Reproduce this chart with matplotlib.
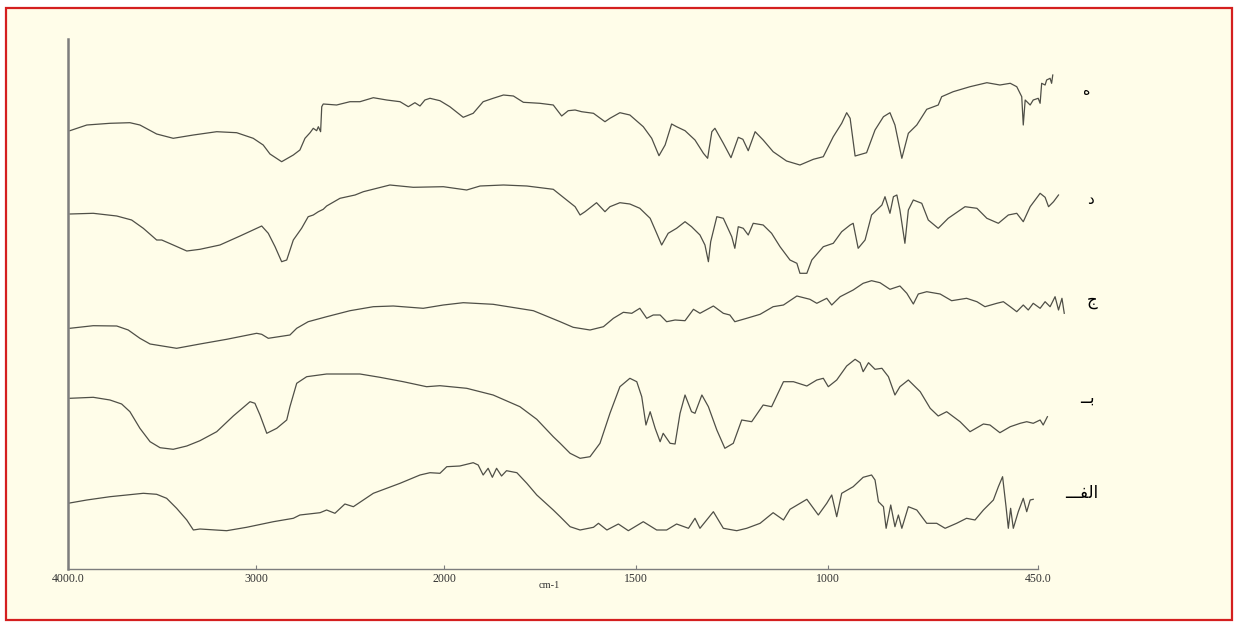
import numpy as np
import matplotlib
matplotlib.use("Agg")
import matplotlib.pyplot as plt
from matplotlib.patches import Rectangle

# ---------------- data (wavenumber cm-1, transmittance in arbitrary units) -------------
he_wn = [3990,3900,3777,3671,3618,3529,3441,3334,3210,3104,3016,2963,2927,2865,2803,2768,2741,2714,2697,2679,2670,2658,2652,2644,2573,2502,2449,2378,2307,2236,2192,2157,2130,2104,2077,2024,1986,1951,1925,1899,1873,1846,1820,1794,1751,1716,1694,1677,1659,1642,1611,1581,1568,1542,1516,1481,1459,1440,1424,1407,1394,1372,1346,1324,1313,1302,1294,1272,1252,1233,1221,1207,1189,1168,1142,1107,1072,1037,1011,985,963,950,941,928,898,876,854,837,824,806,789,767,741,711,702,672,628,584,550,523,506,493,489,484,471,463,450,445,441,432,428,419,415,412]
he_t = [469.3,475,476.7,477.3,475,466,461.7,465,468.3,467.3,461.7,455,446,438.3,445,450,461.7,467.3,471.7,469.3,473.3,468.3,493.3,496,495,498.3,498.3,502.3,500,498.3,493.3,497.3,494,500,501.7,499.3,493.3,482.7,486.7,498.3,501.7,505,504,497.7,496.7,495,484,489.3,490,488.3,486.7,478.3,481.7,487.3,485,473.3,461.7,444.3,455,476,473.3,469.3,460,446.7,441.7,468.3,471.7,456.7,442.3,462.7,460.7,449.3,468.3,460,448.3,439,435,440.7,443.3,463.3,476.7,487.3,481.7,444,447.3,470,483.3,487.3,475,441.7,466.7,475,490.7,495,503.3,508.3,513.3,517.3,515,516.7,513.3,503.3,475,500,495,500,501.7,496.7,516.7,515,520,521.7,516.7,525]

de_wn = [3990,3866,3741,3662,3600,3529,3502,3441,3369,3299,3193,3086,2971,2936,2900,2865,2838,2803,2759,2724,2697,2670,2644,2626,2555,2475,2431,2290,2166,2006,1942,1907,1846,1785,1716,1681,1659,1646,1633,1603,1581,1568,1542,1516,1490,1463,1446,1433,1416,1394,1372,1355,1333,1320,1311,1305,1289,1272,1250,1242,1233,1220,1207,1194,1168,1146,1124,1098,1080,1072,1054,1041,1011,985,963,941,933,920,902,885,858,850,837,828,819,811,798,789,776,754,737,711,685,641,610,584,554,528,506,489,471,445,432,423,410,397]
de_t = [386,386.7,384,380,371.7,360,360,355,349,350.7,355,364,374,366.7,353.3,338.3,340,360,371.7,383.3,385,388.3,390.7,394,401.7,405,408.3,415,412.7,413.3,410,414,415,414,410.7,400,393.3,385,388.3,397.3,388.3,393.3,397.3,396,391.7,381.7,366.7,355,366.7,371.7,378.3,373.3,365,355,338.3,358.3,383.3,381.7,363.3,351.7,373.3,371.7,365,376.7,375,366.7,353.3,340,336.7,326.7,326.7,340,353.3,356.7,368.3,375,376.7,351.7,360,385,395,403.3,386.7,403.3,405,390,356.7,390,400,396.7,380,371.7,381.7,393.3,391.7,381.7,376.7,385,386.7,378.3,393.3,406.7,402.7,393.3,398.3,405]

ja_wn = [3990,3866,3741,3680,3618,3564,3423,3299,3157,2998,2971,2936,2821,2785,2724,2626,2502,2378,2272,2113,2006,1951,1873,1768,1698,1664,1620,1585,1559,1533,1511,1490,1472,1455,1437,1420,1398,1372,1350,1333,1298,1272,1255,1242,1211,1176,1142,1115,1080,1046,1028,1002,989,967,933,907,885,863,837,811,793,776,763,741,706,676,637,610,589,558,541,523,506,489,476,463,445,432,419,406,397,388,382]
ja_t = [271.7,274.3,274,270,261.7,256,251.7,256,260.7,266.7,265.7,261.7,265,271.7,278.3,283.3,289.3,293.3,294,291.7,295,297.3,295.7,289.3,278.3,272.7,270,273.3,281.7,287.7,286.7,291.7,281.7,285,285,278.3,280,279.3,290.7,286.7,294,286.7,285,278.3,281.7,285.7,293.3,295,304,300.7,296.7,301.7,295,303.3,310,316.7,319.3,317.3,310.7,314,306.7,296,306,308.3,306,299.3,301.7,298.3,293.3,296.7,298.3,293.3,288.3,295,290,296.7,291.7,298.3,293.3,303.3,290,301.7,286.7]

be_wn = [3990,3866,3777,3715,3671,3618,3564,3511,3441,3369,3299,3210,3122,3033,3007,2980,2944,2891,2838,2821,2785,2732,2626,2449,2343,2219,2095,2024,1942,1873,1803,1759,1716,1698,1672,1646,1620,1594,1568,1542,1516,1498,1485,1474,1463,1450,1437,1429,1411,1398,1385,1372,1355,1346,1328,1311,1289,1268,1246,1224,1198,1168,1146,1115,1089,1054,1028,1011,998,976,950,928,915,907,893,876,858,841,824,811,789,758,732,711,689,654,628,593,576,550,523,497,480,463,445,437,426]
be_t = [201.7,202.7,200,196,188.3,171.7,158.3,152.3,150.7,154,159.3,168.3,184,198.3,196.7,185,166.7,171.7,180,193.3,216.7,223.3,226,226,222.7,218.3,213.3,214.3,211.7,205,193.3,180.7,163.3,156.7,146.7,141.7,143.3,156.7,186.7,213.3,221.7,218.3,203.3,175,188.3,171.7,158.3,166.7,156.7,156,186.7,205,188.3,186.7,205,193.3,170,151.7,156.7,180,178.3,195,193.3,218.3,218.3,214,220,221.7,213.3,220,234,240.7,237.3,228.3,237.3,230.7,231.7,223.3,205,213.3,220,208.3,191.7,184,188.3,178.3,168.3,176,175,167.3,173.3,176.7,178.3,176.7,180,175,183.3]

al_wn = [4000,3900,3777,3688,3600,3529,3476,3423,3369,3334,3299,3157,3051,2909,2803,2768,2661,2626,2582,2529,2484,2378,2236,2130,2077,2024,1994,1960,1925,1912,1899,1886,1875,1864,1851,1838,1811,1785,1759,1716,1698,1672,1646,1611,1598,1576,1546,1520,1481,1446,1420,1394,1363,1346,1333,1298,1272,1237,1211,1176,1142,1115,1098,1054,1024,1002,989,976,963,933,907,885,876,867,854,847,835,824,815,806,789,767,741,715,693,663,637,615,593,567,554,543,534,528,522,515,502,489,480,471,463]
al_t = [96.7,100,103.3,105,106.7,105.7,101.7,91.7,80,70,71,69.3,72.7,78.3,81.7,85,87.3,90,86.7,96,93.3,106.7,116.7,125,127.3,126.7,133.3,134,137.3,135,125,131.7,122.7,131.7,124,129.3,127.3,116.7,105,90,83.3,73.3,70,72.7,76.7,70,76,69.3,78.3,70,70,76,71.7,81.7,71.7,88.3,71.7,69.3,71.7,76.7,87.3,80,90.7,100.7,85,96.7,105,83.3,106.7,113.3,122.7,125,120,98.3,93.3,71.7,95,73.3,85,71.7,93.3,90,76.7,76.7,71.7,76.7,81.7,80,90,100,113.3,123.3,93.3,71.7,91.7,71.7,88.3,101.7,88.3,100,100.7]

# labels written in visual (left-to-right) order with Arabic presentation forms
series_labels = ["\u0647", "\u062F", "\u062C", "\u0640\u0640\uFE91", "\u0640\u0640\u0640\uFED4\uFEDF\u0627"]
tick_values = [4000, 3000, 2000, 1500, 1000, 450]
tick_labels = ["4000.0", "3000", "2000", "1500", "1000", "450.0"]
x_label = "cm-1"

# ---------------- figure ----------------
W, H = 1239, 622
fig = plt.figure(figsize=(W / 100, H / 100), dpi=100, facecolor="white")
fig.add_artist(Rectangle((6 / W, 2 / H), 1226 / W, 612 / H, transform=fig.transFigure,
                         facecolor="#fffde9", edgecolor="#d41f1f", lw=1.6, zorder=0))

ax = fig.add_axes([68 / W, 53 / H, (1070 - 68) / W, 530 / H])
ax.patch.set_alpha(0)

K = 2.035  # scale change at 2000 cm-1


def fwd(w):
    w = np.asarray(w, float)
    return np.where(w >= 2000, w, 2000 - K * (2000 - w))


def inv(u):
    u = np.asarray(u, float)
    return np.where(u >= 2000, u, 2000 - (2000 - u) / K)


ax.set_xscale("function", functions=(fwd, inv))
ax.set_xlim(4000, 367)
ax.set_ylim(31, 561)

line_color = "#4f4f47"
for wn, t in [(he_wn, he_t), (de_wn, de_t), (ja_wn, ja_t), (be_wn, be_t), (al_wn, al_t)]:
    ax.plot(wn, t, color=line_color, lw=0.9, solid_joinstyle="round")

for s in ("top", "right"):
    ax.spines[s].set_visible(False)
ax.spines["left"].set_color("#7d7d7d")
ax.spines["left"].set_linewidth(1.8)
ax.spines["bottom"].set_color("#7d7d7d")
ax.spines["bottom"].set_linewidth(1.0)
ax.spines["bottom"].set_bounds(4000, 450)

ax.set_yticks([])
ax.set_xticks(tick_values)
ax.set_xticklabels(tick_labels, family="Liberation Serif", fontsize=8.5, color="#333333")
ax.tick_params(axis="x", direction="in", length=3, width=0.8, color="#7d7d7d", pad=3)
ax.minorticks_off()

fig.text(549 / W, 1 - 586 / H, x_label, ha="center", va="center",
         family="Liberation Serif", fontsize=7.5, color="#333333")

label_pos = [(1087, 91), (1090, 199), (1092, 300), (1087, 398), (1082, 493)]
label_size = [10, 11, 12, 12, 12]
for s, (px, py), fs in zip(series_labels, label_pos, label_size):
    fig.text(px / W, 1 - py / H, s, ha="center", va="center", family="DejaVu Sans",
             fontsize=fs, color="black")

fig.savefig("out.png", dpi=100, facecolor="white")
